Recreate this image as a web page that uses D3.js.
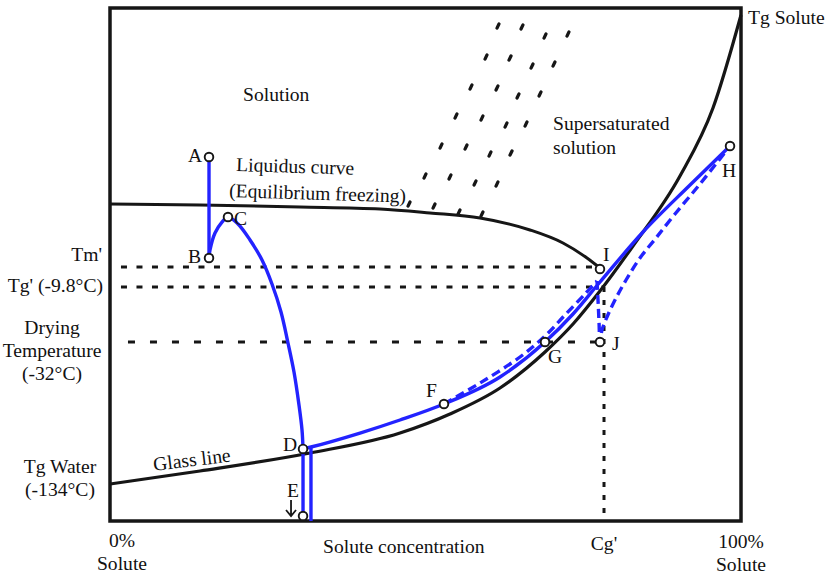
<!DOCTYPE html>
<html>
<head>
<meta charset="utf-8">
<script src="https://cdn.jsdelivr.net/npm/d3@7"></script>
<style>
  body { margin: 0; background: #fff; }
  svg text { font-family: "Liberation Serif", "Tinos", "Times New Roman", "DejaVu Serif", serif; font-size: 19.6px; fill: #111; }
</style>
</head>
<body>
<svg id="chart" width="827" height="574"></svg>
<script>
// State diagram of a freeze-dried solution.
// x: solute concentration (% solute), y: relative temperature (0 = bottom, 100 = top of frame).

const liquidusCurve = [[0,61.79],[14.26,61.60],[30.11,61.21],[42.79,60.82],[50.71,60.04],[58.64,59.06],
  [66.56,56.73],[71.79,54.19],[75.59,51.27],[77.65,49.32]];

const glassCurve = [[0,7.21],[14.26,9.75],[31.70,13.26],[45.96,17.15],[53.88,20.86],[61.81,25.93],
  [68.94,32.94],[73.38,38.40],[77.65,44.83],[82.88,53.61],[90.33,67.25],[95.56,80.51],[100,98.64]];

// Cooling path A -> B, supercooling B -> C -> D, glass D -> E
const pathAB = [[15.69,70.96],[15.69,51.27]];
const pathBCD = [[15.69,51.27],[15.85,52.83],[16.64,56.14],[17.75,58.28],[18.70,59.26],[20.29,57.89],
  [22.19,54.78],[24.09,50.88],[25.67,46.20],[27.10,40.74],[28.21,34.70],[29.16,29.04],[29.95,22.61],
  [30.43,17.74],[30.59,14.04]];
const pathDE = [[30.59,14.04],[30.59,0.97]];
const pathDown = [[31.85,14.42],[31.85,0]];

// Drying path D -> F -> G -> I -> H (solid)
const pathDH = [[30.59,14.04],[31.85,14.42],[39.62,17.15],[45.96,19.69],[52.93,22.81],[61.81,28.07],
  [68.94,34.89],[73.38,40.35],[77.65,46.59],[84.47,56.34],[91.92,65.50],[98.26,73.10]];

// Alternative drying path F -> (near I) -> J -> H (dashed)
const pathFI = [[52.93,22.81],[58.64,26.90],[64.98,31.97],[68.94,36.06],[72.11,40.16],[75.28,44.25],[77.18,46.78]];
const pathIJ = [[77.18,46.78],[77.34,43.08],[77.50,38.79],[77.65,34.89]];
const pathJH = [[77.65,34.89],[77.97,37.23],[78.76,39.77],[80.03,43.08],[81.78,46.98],[83.99,51.27],
  [86.53,55.17],[89.54,59.84],[93.50,65.69],[98.26,73.10]];

// Reference temperatures and concentration
const tmPrime = 49.51, tgPrime = 45.61, dryingTemp = 34.89, cgPrime = 78.29;

// Supersaturated-solution hatch marks
const hatch = [
  [61.49,96.49],[65.29,96.30],[68.94,94.54],[72.58,94.93],
  [59.59,90.45],[63.39,90.25],[66.88,88.69],[70.36,89.08],
  [57.21,84.60],[61.33,84.41],[64.66,82.85],[68.15,83.24],
  [54.83,78.95],[58.95,78.56],[62.76,77.19],[65.93,77.39],
  [52.46,73.10],[56.42,72.90],[60.22,71.54],[63.55,71.73],
  [49.92,67.25],[53.88,67.06],[57.85,65.89],[61.33,65.69],
  [47.39,61.79],[51.35,61.40],[55.31,60.23],[58.95,59.84]
];

// Labelled states
const pointNames = ["A","B","C","D","E","F","G","I","J","H"];
const pointConc  = [15.69,15.69,18.70,30.59,30.59,52.93,68.94,77.65,77.65,98.26];
const pointTemp  = [70.96,51.27,59.26,14.04,0.97,22.81,34.89,49.12,34.89,73.10];

const xTickLabels = ["0%\nSolute", "Cg'", "100%\nSolute"];
const xTickValues = [0, cgPrime, 100];
const xAxisTitle = "Solute concentration";
const yTickLabels = ["Tm'", "Tg' (-9.8°C)", "Drying\nTemperature\n(-32°C)", "Tg Water\n(-134°C)"];
const yTickValues = [tmPrime, tgPrime, dryingTemp, glassCurve[0][1]];

const regionLabels = ["Solution", "Liquidus curve", "(Equilibrium freezing)", "Supersaturated", "solution", "Glass line", "Tg Solute"];

// ---------------------------------------------------------------
const svg = d3.select("#chart");
const x = d3.scaleLinear().domain([0, 100]).range([110, 741]);
const y = d3.scaleLinear().domain([0, 100]).range([521, 8]);

const BLUE = "#2323ff", INK = "#161616";

const smooth = d3.line().x(d => x(d[0])).y(d => y(d[1])).curve(d3.curveCatmullRom.alpha(0.5));
const mono = d3.line().x(d => x(d[0])).y(d => y(d[1])).curve(d3.curveMonotoneX);
const straight = d3.line().x(d => x(d[0])).y(d => y(d[1]));

// reference lines
const ref = svg.append("g").attr("stroke", INK).attr("stroke-width", 3).attr("fill", "none");
ref.append("path").attr("d", straight([[1.74, tmPrime], [77.65, tmPrime]])).attr("stroke-dasharray", "6 9.5");
ref.append("path").attr("d", straight([[1.74, tgPrime], [cgPrime, tgPrime]])).attr("stroke-dasharray", "6 9.5");
ref.append("path").attr("d", straight([[2.85, dryingTemp], [77.65, dryingTemp]])).attr("stroke-dasharray", "7 15");
ref.append("path").attr("d", straight([[cgPrime, tgPrime], [cgPrime, 0]])).attr("stroke-dasharray", "5 8");

// hatch marks
svg.append("g").selectAll("line").data(hatch).join("line")
  .attr("x1", d => x(d[0]) - 1.0).attr("y1", d => y(d[1]) + 2.1)
  .attr("x2", d => x(d[0]) + 1.0).attr("y2", d => y(d[1]) - 2.1)
  .attr("stroke", INK).attr("stroke-width", 3.3).attr("stroke-linecap", "round");

// black curves
svg.append("path").attr("d", mono(liquidusCurve)).attr("fill", "none").attr("stroke", INK).attr("stroke-width", 3);
svg.append("path").attr("d", mono(glassCurve)).attr("fill", "none").attr("stroke", INK).attr("stroke-width", 3.2);

// frame
svg.append("rect").attr("x", x(0)).attr("y", y(100)).attr("width", x(100) - x(0)).attr("height", y(0) - y(100))
  .attr("fill", "none").attr("stroke", INK).attr("stroke-width", 3.5);

// blue process paths
const blue = svg.append("g").attr("fill", "none").attr("stroke", BLUE).attr("stroke-width", 3.4);
blue.append("path").attr("d", straight(pathAB));
blue.append("path").attr("d", smooth(pathBCD));
blue.append("path").attr("d", straight(pathDE));
blue.append("path").attr("d", straight(pathDown));
blue.append("path").attr("d", mono(pathDH));
blue.append("path").attr("d", smooth(pathFI)).attr("stroke-dasharray", "9 5");
blue.append("path").attr("d", smooth(pathIJ.concat(pathJH.slice(1)))).attr("stroke-dasharray", "9 5");

// state markers
const pts = pointNames.map((n, i) => ({ name: n, c: pointConc[i], t: pointTemp[i] }));
svg.append("g").selectAll("circle").data(pts).join("circle")
  .attr("cx", d => x(d.c)).attr("cy", d => y(d.t)).attr("r", 4.3)
  .attr("fill", "#fff").attr("stroke", INK).attr("stroke-width", 1.9);

const labelShift = { A:[-21,5], B:[-21,5], C:[6,8], D:[-20,2], E:[-16,-19], F:[-18,-7], G:[3,21], I:[3,-8], J:[12,8], H:[-8,31] };
svg.append("g").selectAll("text").data(pts).join("text")
  .attr("x", d => x(d.c) + labelShift[d.name][0]).attr("y", d => y(d.t) + labelShift[d.name][1])
  .text(d => d.name);

// arrow under E
const eX = x(pointConc[4]) - 12, eY = y(pointTemp[4]);
svg.append("path")
  .attr("d", `M${eX},${eY - 16} L${eX},${eY} M${eX - 5},${eY - 6} L${eX},${eY} L${eX + 5},${eY - 6}`)
  .attr("fill", "none").attr("stroke", INK).attr("stroke-width", 1.8);

// multi-line text helper
function multi(sel, lines, xPos, yPos, anchor, lh) {
  const t = sel.append("text").attr("text-anchor", anchor);
  lines.forEach((l, i) => t.append("tspan").attr("x", xPos).attr("y", yPos + i * lh).text(l));
  return t;
}

// x-axis labels
multi(svg, xTickLabels[0].split("\n"), x(xTickValues[0]) + 12, 547, "middle", 23);
multi(svg, xTickLabels[1].split("\n"), x(xTickValues[1]), 550, "middle", 23);
multi(svg, xTickLabels[2].split("\n"), x(xTickValues[2]), 548, "middle", 23);
svg.append("text").attr("x", 323).attr("y", 553).text(xAxisTitle);

// y-axis labels
multi(svg, yTickLabels[0].split("\n"), 102, y(yTickValues[0]) - 6, "end", 23);
multi(svg, yTickLabels[1].split("\n"), 103, y(yTickValues[1]) + 5, "end", 23);
multi(svg, yTickLabels[2].split("\n"), 52, y(yTickValues[2]) - 8, "middle", 23);
multi(svg, yTickLabels[3].split("\n"), 60, y(yTickValues[3]) - 11, "middle", 23);

// region labels
svg.append("text").attr("x", 243).attr("y", 101).text(regionLabels[0]);
svg.append("text").attr("transform", "translate(236,171) rotate(1.8)").text(regionLabels[1]);
svg.append("text").attr("transform", "translate(229,197) rotate(1.8)").text(regionLabels[2]);
svg.append("text").attr("x", 553).attr("y", 130).text(regionLabels[3]);
svg.append("text").attr("x", 553).attr("y", 154).text(regionLabels[4]);
svg.append("text").attr("transform", "translate(154,471) rotate(-7)").text(regionLabels[5]);
svg.append("text").attr("x", 748).attr("y", 24).text(regionLabels[6]);
</script>
</body>
</html>
